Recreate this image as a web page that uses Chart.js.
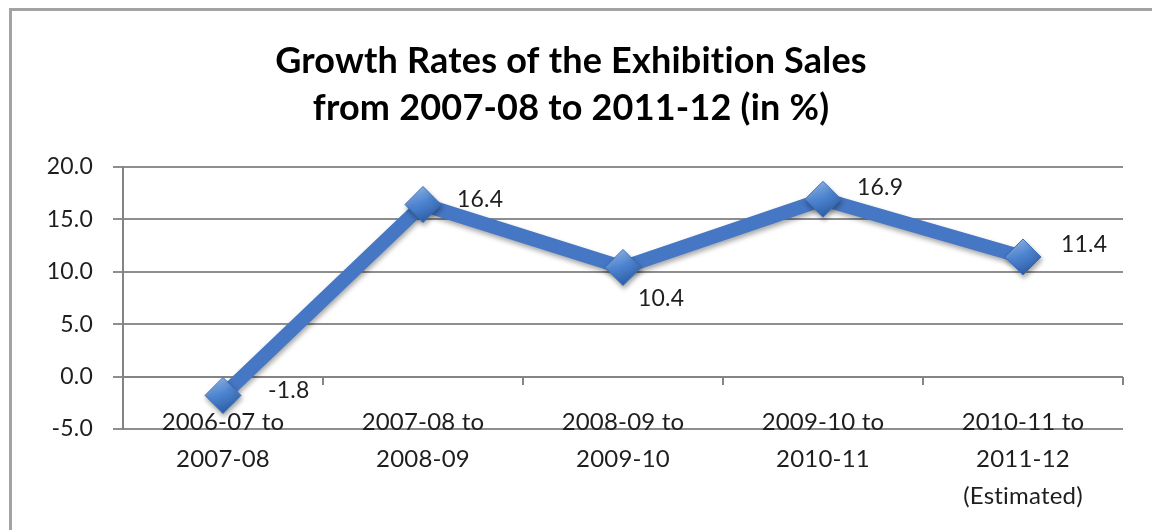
<!DOCTYPE html>
<html>
<head>
<meta charset="utf-8">
<script src="https://cdn.jsdelivr.net/npm/chart.js@4"></script>
<style>
  html, body { margin: 0; padding: 0; background: #fff; overflow: hidden; width: 1152px; height: 530px; }
  .frame { position: absolute; left: 9px; top: 8px; width: 1200px; height: 600px; border: 3px solid #a3a3a3; }
  .wrap { position: absolute; left: 0; top: 0; width: 1142px; height: 530px; }
</style>
</head>
<body>
<div class="frame"></div>
<div class="wrap"><canvas id="chart"></canvas></div>
<script>
// Chart content
const titleLines = ['Growth Rates of the Exhibition Sales', 'from 2007-08 to 2011-12 (in %)'];
const periods = [
  ['2006-07 to', '2007-08'],
  ['2007-08 to', '2008-09'],
  ['2008-09 to', '2009-10'],
  ['2009-10 to', '2010-11'],
  ['2010-11 to', '2011-12', '(Estimated)']
];
const growthRates = [-1.8, 16.4, 10.4, 16.9, 11.4];
const yTicks = [-5, 0, 5, 10, 15, 20];

// Where each value label sits relative to its marker (px)
const labelOffsets = [[45, -5], [34, -5], [15, 31], [34, -12], [38, -12]];

const FONT = 'Lato, "Open Sans", sans-serif';
const LINE_BLUE = '#4577c4';
const GRID_GREY = '#8e8e8e';

// A hair of letter spacing keeps "ti" from fusing into a ligature
const textSpacing = {
  id: 'textSpacing',
  beforeDraw(chart) { chart.ctx.letterSpacing = '0.2px'; },
  afterDraw(chart) { chart.ctx.letterSpacing = '0px'; }
};

// Horizontal axis drawn through zero, with tick marks at category boundaries
const zeroAxis = {
  id: 'zeroAxis',
  beforeDatasetsDraw(chart) {
    const { ctx, chartArea, scales: { x, y } } = chart;
    const y0 = Math.round(y.getPixelForValue(0));
    const half = (x.getPixelForValue(1) - x.getPixelForValue(0)) / 2;
    ctx.save();
    ctx.strokeStyle = '#848484';
    ctx.lineWidth = 2;
    ctx.beginPath();
    ctx.moveTo(chartArea.left, y0);
    ctx.lineTo(chartArea.right, y0);
    for (let i = 0; i < periods.length; i++) {
      const bx = Math.round(x.getPixelForValue(i) + half);
      ctx.moveTo(bx, y0);
      ctx.lineTo(bx, y0 + 8);
    }
    ctx.stroke();
    ctx.restore();
  }
};

// Soft drop shadow under the series line and markers
const seriesShadow = {
  id: 'seriesShadow',
  beforeDatasetDraw(chart) {
    const ctx = chart.ctx;
    ctx.save();
    ctx.shadowColor = 'rgba(0,0,0,0.35)';
    ctx.shadowBlur = 5;
    ctx.shadowOffsetX = 1;
    ctx.shadowOffsetY = 3;
  },
  afterDatasetDraw(chart) {
    chart.ctx.restore();
  }
};

// Value labels beside each marker
const valueLabels = {
  id: 'valueLabels',
  afterDatasetsDraw(chart) {
    const { ctx } = chart;
    const meta = chart.getDatasetMeta(0);
    const values = chart.data.datasets[0].data;
    ctx.save();
    ctx.font = '23px ' + FONT;
    ctx.fillStyle = '#1e1e1e';
    ctx.textAlign = 'left';
    ctx.textBaseline = 'middle';
    meta.data.forEach((pt, i) => {
      const [dx, dy] = labelOffsets[i];
      ctx.fillText(values[i].toFixed(1), pt.x + dx, pt.y + dy);
    });
    ctx.restore();
  }
};

// Diamond fill: light upper-left highlight fading to a deeper blue
function markerFill(c) {
  const xs = c.chart.scales.x, ys = c.chart.scales.y;
  if (!xs || !ys || typeof c.raw !== 'number') return '#4f81bd';
  const px = xs.getPixelForValue(c.dataIndex);
  const py = ys.getPixelForValue(c.raw);
  if (!Number.isFinite(px) || !Number.isFinite(py)) return '#4f81bd';
  const g = c.chart.ctx.createLinearGradient(px - 10, py - 18, px + 6, py + 18);
  g.addColorStop(0, '#9cc0ef');
  g.addColorStop(0.45, '#4f86d2');
  g.addColorStop(1, '#2a5aa2');
  return g;
}

new Chart(document.getElementById('chart'), {
  type: 'line',
  data: {
    labels: periods,
    datasets: [{
      data: growthRates,
      borderColor: LINE_BLUE,
      borderWidth: 14,
      borderJoinStyle: 'round',
      tension: 0,
      pointStyle: 'rectRot',
      pointRadius: 18,
      pointHoverRadius: 18,
      pointBorderColor: '#3b6db8',
      pointBorderWidth: 1,
      pointBackgroundColor: markerFill
    }]
  },
  options: {
    responsive: true,
    maintainAspectRatio: false,
    animation: false,
    layout: { padding: { left: 14, right: 14, top: 0, bottom: 0 } },
    plugins: {
      legend: { display: false },
      tooltip: { enabled: false },
      title: {
        display: true,
        text: titleLines,
        color: '#000',
        font: { family: FONT, size: 36, weight: 'bold', lineHeight: 1.33 },
        padding: { top: 37, bottom: 34 }
      }
    },
    scales: {
      x: {
        offset: true,
        grid: { display: false, drawTicks: false },
        border: { display: false },
        ticks: {
          color: '#1e1e1e',
          mirror: true,
          padding: -11.5,
          maxRotation: 0,
          autoSkip: false,
          font: { family: FONT, size: 24, lineHeight: 1.54 }
        },
        afterFit(scale) { scale.height = 101; }
      },
      y: {
        min: yTicks[0],
        max: yTicks[yTicks.length - 1],
        ticks: {
          stepSize: yTicks[1] - yTicks[0],
          color: '#1e1e1e',
          padding: 20,
          font: { family: FONT, size: 23 },
          callback: v => Number(v).toFixed(1)
        },
        grid: { color: GRID_GREY, lineWidth: 2, tickLength: 10, tickColor: GRID_GREY },
        border: { display: true, color: '#848484', width: 2 },
        afterFit(scale) { scale.width = 109; }
      }
    }
  },
  plugins: [textSpacing, zeroAxis, seriesShadow, valueLabels]
});
</script>
</body>
</html>
